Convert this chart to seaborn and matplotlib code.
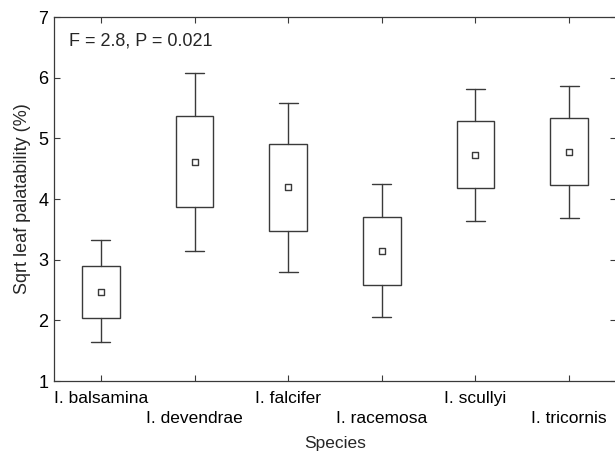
import matplotlib
matplotlib.use("Agg")
import matplotlib.pyplot as plt
import seaborn as sns
import pandas as pd

# values (mean, +-box, +-whisker)
species = ["I. balsamina", "I. devendrae", "I. falcifer",
           "I. racemosa", "I. scullyi", "I. tricornis"]
means = [2.47, 4.61, 4.19, 3.14, 4.73, 4.78]
box_low = [2.04, 3.87, 3.48, 2.58, 4.18, 4.23]
box_high = [2.90, 5.36, 4.90, 3.71, 5.28, 5.33]
whisk_low = [1.64, 3.14, 2.80, 2.05, 3.64, 3.69]
whisk_high = [3.32, 6.08, 5.58, 4.25, 5.81, 5.87]
stat_text = "F = 2.8, P = 0.021"

sns.set_theme(style="ticks")
plt.rcParams['font.family'] = ['Liberation Sans', 'DejaVu Sans']

line_col = "#3a3a3a"

fig = plt.figure(figsize=(6.15, 4.55), dpi=100)
ax = fig.add_axes([54 / 615, 74 / 455, 562 / 615, 364 / 455])

df = pd.DataFrame({"Species": species, "Mean": means})

# boxes and whiskers from the precomputed stats
stats = []
for i in range(len(species)):
    stats.append(dict(med=means[i], q1=box_low[i], q3=box_high[i],
                      whislo=whisk_low[i], whishi=whisk_high[i], fliers=[]))
ax.bxp(stats, positions=range(len(species)), widths=0.4, capwidths=0.2,
       showfliers=False, manage_ticks=False, patch_artist=True,
       boxprops=dict(facecolor="white", edgecolor=line_col, linewidth=1.0),
       whiskerprops=dict(color=line_col, linewidth=1.0),
       capprops=dict(color=line_col, linewidth=1.0),
       medianprops=dict(linewidth=0))

# mean markers
sns.scatterplot(data=df, x="Species", y="Mean", marker="s", s=22,
                facecolor="white", edgecolor=line_col, linewidth=1.0,
                zorder=5, ax=ax, legend=False)

ax.set_xlim(-0.5, 5.5)
ax.set_ylim(1, 7)
ax.set_yticks(range(1, 8))
ax.set_xticks(range(len(species)))
# staggered category labels
ax.set_xticklabels([s if i % 2 == 0 else "\n" + s for i, s in enumerate(species)])
for t in ax.get_xticklabels():
    t.set_linespacing(1.45)

ax.tick_params(direction="in", length=4, width=0.8, color=line_col,
               top=True, right=True, labelsize=13, labelcolor="black")
ax.tick_params(axis="x", pad=7, labelsize=12.5)
ax.tick_params(axis="y", pad=4)
for sp in ax.spines.values():
    sp.set_color(line_col)
    sp.set_linewidth(0.9)

ax.set_xlabel("Species", fontsize=12.5, labelpad=7)
ax.set_ylabel("Sqrt leaf palatability (%)", fontsize=13, labelpad=5)

ax.text(0.027, 0.934, stat_text, transform=ax.transAxes,
        fontsize=13, va="center", ha="left")

plt.savefig("out.png", dpi=100)
